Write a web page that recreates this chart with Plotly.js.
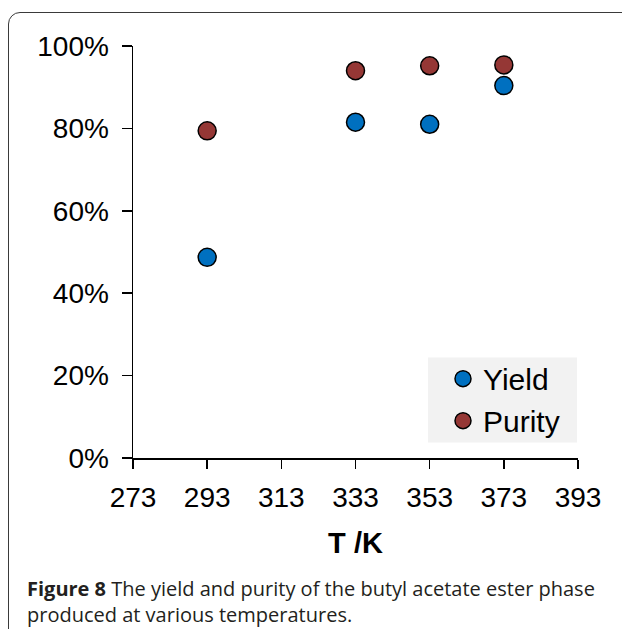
<!DOCTYPE html>
<html>
<head>
<meta charset="utf-8">
<script src="https://cdn.plot.ly/plotly-3.0.1.min.js"></script>
<style>
  html, body { margin: 0; padding: 0; background: #fff; }
  #wrap { position: relative; width: 622px; height: 629px; overflow: hidden; }
  #chart { position: absolute; left: 0; top: 0; width: 622px; height: 629px; }
  #frame { position: absolute; left: 8px; top: 12px; width: 700px; height: 700px;
           border: 1.5px solid #3a3a3a; border-radius: 12px; pointer-events: none; box-sizing: border-box; }
</style>
</head>
<body>
<div id="wrap">
  <div id="chart"></div>
  <div id="frame"></div>
</div>
<script>
// Data
const temperaturesK = [293, 333, 353, 373];
const yieldValues   = [0.487, 0.815, 0.810, 0.904];
const purityValues  = [0.794, 0.940, 0.952, 0.954];
const xTickValues   = [273, 293, 313, 333, 353, 373, 393];
const yTickValues   = [0, 0.2, 0.4, 0.6, 0.8, 1.0];
const seriesNames   = ["Yield", "Purity"];
const captionBold   = "Figure 8";
const captionRest   = " The yield and purity of the butyl acetate ester phase";
const captionLine2  = "produced at various temperatures.";

const L = 133, R = 578, T = 46, B = 458.5, W = 622, H = 629;
const pw = R - L, ph = B - T;
const px = v => (v - L) / pw;
const py = v => (B - v) / ph;

const sans = "Liberation Sans, Arial, sans-serif";
const axisFont = { family: sans, size: 28, color: "#000" };

const traces = [
  { x: temperaturesK, y: yieldValues, name: seriesNames[0], type: "scatter", mode: "markers",
    marker: { size: 18, color: "#0070C0", line: { color: "#000", width: 1.5 } } },
  { x: temperaturesK, y: purityValues, name: seriesNames[1], type: "scatter", mode: "markers",
    marker: { size: 18, color: "#953735", line: { color: "#000", width: 1.5 } } }
];

const layout = {
  width: W, height: H,
  margin: { l: L, r: W - R, t: T, b: H - B, pad: 0 },
  paper_bgcolor: "rgba(0,0,0,0)", plot_bgcolor: "rgba(0,0,0,0)",
  showlegend: true,
  legend: {
    x: px(443), y: py(353), xanchor: "left", yanchor: "top",
    bgcolor: "rgba(0,0,0,0)", borderwidth: 0,
    font: { family: sans, size: 30, color: "#000" },
    itemwidth: 30, tracegroupgap: 0
  },
  shapes: [
    { type: "rect", xref: "paper", yref: "paper", x0: px(428), x1: px(577), y0: py(443), y1: py(358),
      fillcolor: "#F2F2F2", line: { width: 0 }, layer: "below" }
  ],
  xaxis: {
    range: [273, 393], tickvals: xTickValues, ticktext: xTickValues.map(String),
    showgrid: false, zeroline: false, showline: true, linecolor: "#000", linewidth: 1.5,
    ticks: "outside", ticklen: 9, tickwidth: 1.5, tickcolor: "#000",
    tickfont: axisFont, ticklabelstandoff: 5,
    title: { text: "<b>T /K</b>", font: { family: sans, size: 29, color: "#000" }, standoff: 20 }
  },
  yaxis: {
    range: [0, 1], tickvals: yTickValues, tickformat: ".0%",
    showgrid: false, zeroline: false, showline: true, linecolor: "#000", linewidth: 1.5,
    ticks: "outside", ticklen: 10, tickwidth: 1.5, tickcolor: "#000",
    tickfont: axisFont, ticklabelstandoff: 7
  },
  annotations: [
    { xref: "paper", yref: "paper", x: px(25), y: py(602.5), xanchor: "left", yanchor: "middle",
      align: "left", showarrow: false,
      text: "<b>" + captionBold + "</b>" + captionRest + "<br>" + captionLine2,
      font: { family: "Open Sans, sans-serif", size: 20, color: "#231F20" } }
  ]
};

Plotly.newPlot("chart", traces, layout, { displayModeBar: false, staticPlot: true });
</script>
</body>
</html>
